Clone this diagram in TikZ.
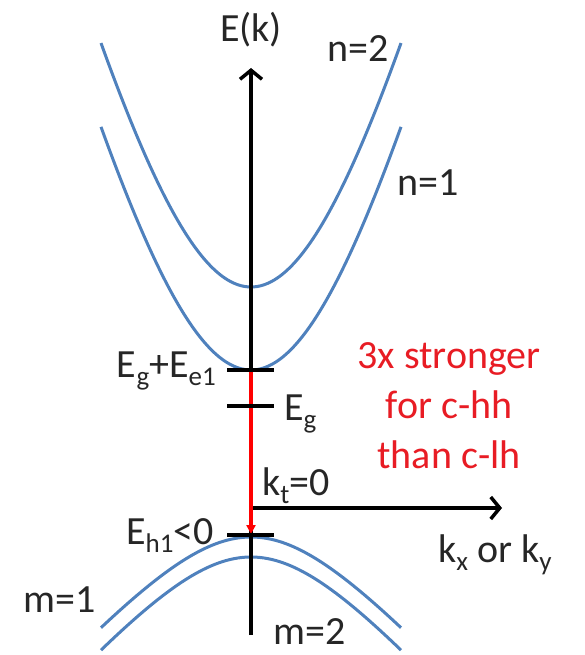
\documentclass[tikz,border=0pt]{standalone}
\usepackage{fontspec}
\setmainfont{Carlito}
\usetikzlibrary{arrows.meta}
\definecolor{bandblue}{RGB}{79,129,189}
\definecolor{txtred}{RGB}{232,28,36}
\newcommand{\mysub}[1]{\raisebox{-0.22em}{\fontsize{27}{27}\selectfont #1}}
\begin{document}
\begin{tikzpicture}[x=1pt,y=-1pt,
  lbl/.style={inner sep=0pt,font=\fontsize{40}{48}\selectfont,text=black!85},
  redlbl/.style={inner sep=0pt,font=\fontsize{40}{48}\selectfont,text=txtred},
  band/.style={draw=bandblue,line width=3pt},
  axis/.style={draw=black,line width=3.5pt},
  tick/.style={draw=black,line width=4pt},
  barb/.style={-{Straight Barb[length=9pt,width=22pt,line width=3.5pt]}}]
\useasboundingbox (0,0) rectangle (585,655);
% coordinates
\coordinate (ax0) at (251,635);
\coordinate (axtop) at (251,68);
\coordinate (hx0) at (251,508);
\coordinate (hxend) at (502,508);
\coordinate (ctop) at (251,370);
\coordinate (vtop) at (251,534);
% conduction bands
\draw[band] plot[domain=-150:150,samples=80,smooth] ({251+\x},{287-589*(sqrt(1+(\x/150)^2)-1)});
\draw[band] plot[domain=-150:150,samples=80,smooth] ({251+\x},{370-587*(sqrt(1+(\x/150)^2)-1)});
% valence bands
\draw[band] plot[domain=-150:150,samples=80,smooth] ({251+\x},{537+113*(sqrt(1+(\x/100)^2)-1)});
\draw[band] plot[domain=-150:150,samples=80,smooth] ({251+\x},{557+116*(sqrt(1+(\x/100)^2)-1)});
% axes
\draw[axis,barb] (ax0) -- (axtop);
\draw[axis,barb] (hx0) -- (hxend);
% red transition
\draw[draw=red,line width=3.5pt,-{Triangle[length=9pt,width=9pt]}] (ctop) -- (vtop);
% ticks
\draw[tick] (227,370) -- (274,370);
\draw[tick] (227,406) -- (274,406);
\draw[tick] (227,535) -- (274,535);
% labels
\node[lbl,anchor=base] (Ek) at (251,42) {E(k)};
\node[lbl,anchor=base west] (n2) at (327,62) {n=2};
\node[lbl,anchor=base west] (n1) at (397,195) {n=1};
\node[lbl,anchor=base east] (EgEe) at (216,377) {E\mysub{g}+E\mysub{e1}};
\node[lbl,anchor=base west] (Eg) at (284,420) {E\mysub{g}};
\node[lbl,anchor=base east] (Eh) at (214,544) {E\mysub{h1}<0};
\node[lbl,anchor=base west] (kt) at (262,495) {k\mysub{t}=0};
\node[lbl,anchor=base west] (kxy) at (438,562) {k\mysub{x} or k\mysub{y}};
\node[lbl,anchor=base west] (m1) at (23,612) {m=1};
\node[lbl,anchor=base west] (m2) at (273,644) {m=2};
\node[redlbl,anchor=base] (r1) at (449,368) {3x stronger};
\node[redlbl,anchor=base] (r2) at (449,418) {for c-hh};
\node[redlbl,anchor=base] (r3) at (449,468) {than c-lh};
\end{tikzpicture}
\end{document}
